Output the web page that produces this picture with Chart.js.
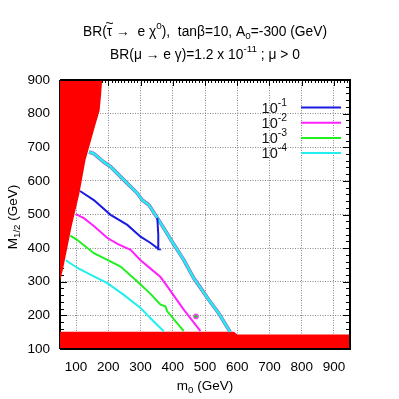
<html>
<head>
<script src="https://cdn.jsdelivr.net/npm/chart.js"></script>
<script>
// values (m0, M1/2 in GeV)
var xTicks = [100, 200, 300, 400, 500, 600, 700, 800, 900];
var yTicks = [100, 200, 300, 400, 500, 600, 700, 800, 900];

// BR = 10^-1
var br1M0 = [112, 155, 207, 259, 300, 330, 357, 355, 352];
var br1M  = [570, 543, 499, 469, 434, 416, 397, 440, 490];
// BR = 10^-2
var br2M0 = [99, 124, 155, 197, 230, 269, 300, 331, 362, 383, 434, 486];
var br2M  = [501, 489, 466, 430, 412, 395, 364, 339, 314, 286, 217, 153];
// BR = 10^-3
var br3M0 = [82, 104, 155, 197, 238, 290, 331, 362, 377, 383, 434];
var br3M  = [437, 424, 385, 365, 345, 301, 264, 232, 227, 212, 153];
// BR = 10^-4
var br4M0 = [68, 104, 155, 197, 248, 300, 341, 372];
var br4M  = [364, 341, 316, 296, 261, 222, 182, 153];
// upper boundary (cyan)
var edgeM0 = [140, 155, 186, 207, 254, 290, 305, 326, 352, 375, 398, 434, 465, 476, 511, 542, 578];
var edgeM  = [686, 681, 656, 642, 597, 563, 543, 528, 490, 455, 419, 365, 311, 296, 247, 207, 151];
// single point
var dotM0 = [472];
var dotM  = [197];
// excluded regions
var leftM0 = [50, 60, 86, 110, 129, 158, 173, 177, 181];
var leftM  = [300, 340, 464, 562, 661, 760, 809, 850, 900];
var lowM0 = [50, 590, 600, 950];
var lowM  = [151, 151, 143, 143];

var legendExp = ['-1', '-2', '-3', '-4'];
var legendColors = ['#1a1ae0', '#ff22ff', '#22ee22', '#22eeee'];

function pts(xs, ys) {
  return xs.map(function (x, i) { return {x: x, y: ys[i]}; });
}

var FONT = '"Liberation Sans", Arial, sans-serif';

// draws text made of normal / super (1) / sub (-1) parts, optional accent on top
function richText(ctx, parts, x, y, size, align) {
  var w = 0;
  parts.forEach(function (p) {
    ctx.font = (p[1] ? size * 0.72 : size) + 'px ' + FONT;
    p.w = ctx.measureText(p[0]).width;
    w += p.w;
  });
  var cx = align === 'center' ? x - w / 2 : (align === 'right' ? x - w : x);
  ctx.textBaseline = 'middle';
  ctx.textAlign = 'left';
  parts.forEach(function (p) {
    ctx.font = (p[1] ? size * 0.72 : size) + 'px ' + FONT;
    var dy = p[1] === 1 ? -size * 0.4 : (p[1] === -1 ? size * 0.3 : 0);
    ctx.fillText(p[0], cx, y + dy);
    if (p[2]) {
      ctx.textAlign = 'center';
      ctx.fillText(p[2], cx + p.w / 2, y - size * 0.55);
      ctx.textAlign = 'left';
    }
    cx += p.w;
  });
}

var decor = {
  id: 'decor',
  beforeDatasetsDraw: function (chart) {
    var ctx = chart.ctx, a = chart.chartArea, sx = chart.scales.x, sy = chart.scales.y;
    ctx.save();
    ctx.strokeStyle = '#000';
    ctx.lineWidth = 1;
    ctx.beginPath();
    var v, p, len;
    for (v = 60; v <= 940; v += 10) {
      p = Math.round(sx.getPixelForValue(v)) + 0.5;
      len = v % 100 === 0 ? 6 : 3;
      ctx.moveTo(p, a.top); ctx.lineTo(p, a.top + len);
      ctx.moveTo(p, a.bottom); ctx.lineTo(p, a.bottom - len);
    }
    for (v = 120; v <= 880; v += 20) {
      p = Math.round(sy.getPixelForValue(v)) + 0.5;
      len = v % 100 === 0 ? 7 : 4;
      ctx.moveTo(a.left, p); ctx.lineTo(a.left + len, p);
      ctx.moveTo(a.right, p); ctx.lineTo(a.right - len, p);
    }
    ctx.stroke();
    ctx.lineWidth = 2;
    ctx.beginPath();
    ctx.moveTo(a.left, a.top); ctx.lineTo(a.left, a.bottom);
    ctx.stroke();
    ctx.restore();
  },
  afterDatasetsDraw: function (chart) {
    var ctx = chart.ctx, a = chart.chartArea;
    ctx.save();
    ctx.strokeStyle = '#000';
    ctx.lineWidth = 2;
    ctx.beginPath();
    ctx.moveTo(a.left, a.top); ctx.lineTo(a.right, a.top);
    ctx.lineTo(a.right, a.bottom); ctx.lineTo(a.left, a.bottom);
    ctx.stroke();

    // legend
    ctx.fillStyle = '#111';
    legendExp.forEach(function (e, i) {
      var y = 107.5 + i * 15.2;
      richText(ctx, [['10', 0], [e, 1]], 287, y + 1, 14.5, 'right');
      ctx.strokeStyle = legendColors[i];
      ctx.lineWidth = 2;
      ctx.beginPath();
      ctx.moveTo(301, y); ctx.lineTo(341, y);
      ctx.stroke();
    });

    // titles and axis names
    ctx.fillStyle = '#000';
    var cx = (a.left + a.right) / 2;
    richText(ctx, [['BR(', 0], ['\u03c4', 0, '~'], [' \u2192  e \u03c7', 0], ['0', 1],
                   ['),  tan\u03b2=10, A', 0], ['0', -1], ['=-300 (GeV)', 0]], cx, 32, 13.8, 'center');
    richText(ctx, [['BR(\u03bc \u2192 e \u03b3)=1.2 x 10', 0], ['-11', 1], [' ; \u03bc > 0', 0]], cx, 55, 13.8, 'center');
    richText(ctx, [['m', 0], ['0', -1], [' (GeV)', 0]], cx, 386, 13.5, 'center');
    ctx.translate(13, 217);
    ctx.rotate(-Math.PI / 2);
    richText(ctx, [['M', 0], ['1/2', -1], [' (GeV)', 0]], 0, 0, 13.5, 'center');
    ctx.restore();
  }
};

function lineSet(xs, ys, color, width, order) {
  return {data: pts(xs, ys), showLine: true, borderColor: color, borderWidth: width,
          pointRadius: 0, tension: 0, fill: false, order: order};
}

function drawChart() {
  var ctx = document.getElementById('brChart');
  var tickFont = {family: FONT, size: 13.5};
  new Chart(ctx, {
    type: 'scatter',
    data: {
      datasets: [
        {data: pts(dotM0, dotM), pointRadius: 2.2, pointBorderWidth: 1.2,
         pointBackgroundColor: '#22cc22', pointBorderColor: '#ff44ff', order: 0},
        lineSet(br1M0, br1M, legendColors[0], 2, 1),
        lineSet(br2M0, br2M, legendColors[1], 2, 1),
        lineSet(br3M0, br3M, legendColors[2], 2, 1),
        lineSet(br4M0, br4M, legendColors[3], 2, 1),
        lineSet(edgeM0, edgeM, '#22eeee', 2.5, 2),
        lineSet(edgeM0, edgeM, '#a050c0', 3.6, 3),
        {data: pts(leftM0, leftM), showLine: true, borderWidth: 0, pointRadius: 0,
         backgroundColor: '#ff0000', fill: 'end', order: 10},
        {data: pts(lowM0, lowM), showLine: true, borderWidth: 0, pointRadius: 0,
         backgroundColor: '#ff0000', fill: 'start', order: 10}
      ]
    },
    options: {
      responsive: false,
      animation: false,
      layout: {padding: {top: 80, right: 49, left: 0, bottom: 0}},
      plugins: {legend: {display: false}, tooltip: {enabled: false}},
      scales: {
        x: {
          type: 'linear', min: 50, max: 950,
          afterBuildTicks: function (s) { s.ticks = xTicks.map(function (v) { return {value: v}; }); },
          afterFit: function (s) { s.height = 50; },
          ticks: {font: tickFont, color: '#000', padding: 10, maxRotation: 0, autoSkip: false},
          grid: {color: '#888', lineWidth: 1, drawTicks: false},
          border: {display: false, dash: [1, 1.5]}
        },
        y: {
          type: 'linear', min: 100, max: 900,
          afterBuildTicks: function (s) { s.ticks = yTicks.map(function (v) { return {value: v}; }); },
          afterFit: function (s) { s.width = 60; },
          ticks: {font: tickFont, color: '#000', padding: 10, autoSkip: false},
          grid: {color: '#888', lineWidth: 1, drawTicks: false},
          border: {display: false, dash: [1, 1.5]}
        }
      }
    },
    plugins: [decor]
  });
}

window.addEventListener('load', drawChart);
</script>
<style>
body { margin: 0; background: #fff; }
</style>
</head>
<body>
<canvas id="brChart" width="399" height="399"></canvas>
</body>
</html>
